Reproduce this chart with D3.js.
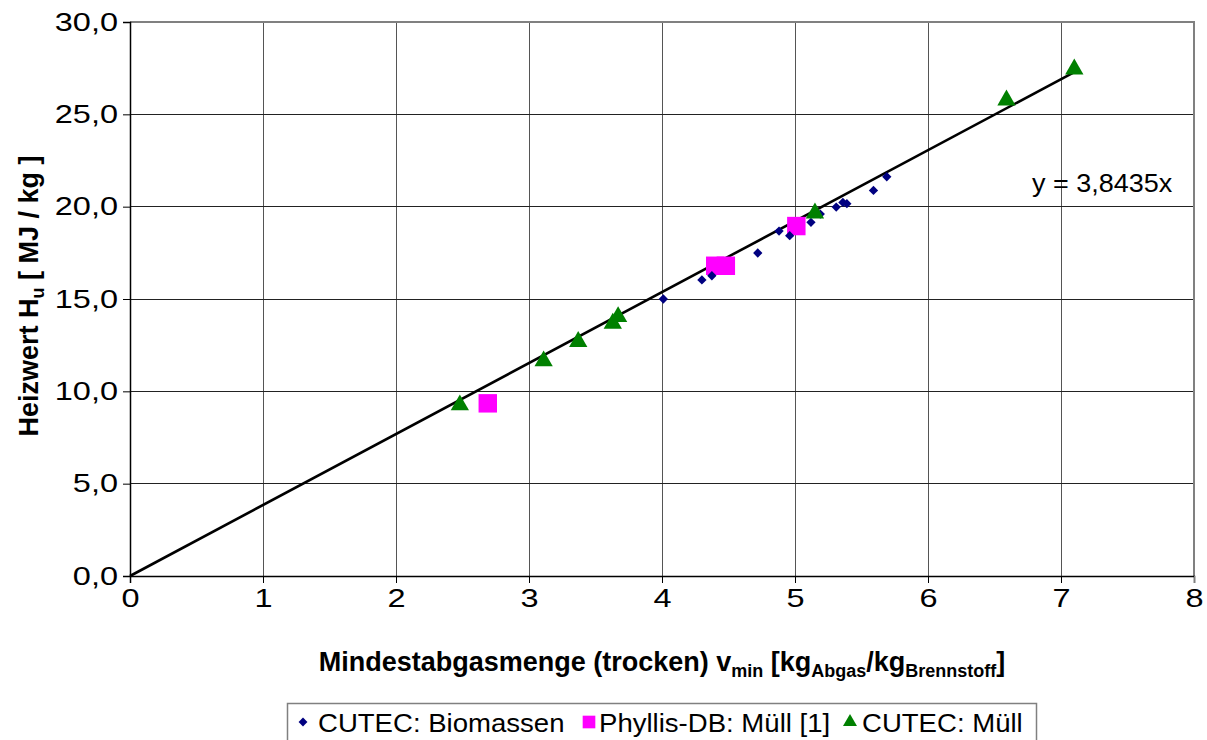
<!DOCTYPE html>
<html>
<head>
<meta charset="utf-8">
<script src="https://cdn.jsdelivr.net/npm/d3@7"></script>
<style>
  html, body { margin: 0; padding: 0; background: #fff; }
  svg { display: block; font-family: "Liberation Sans", Arial, sans-serif; }
</style>
</head>
<body>
<svg id="chart" width="1207" height="740"></svg>
<script>
// Mindestabgasmenge (x) vs. Heizwert (y)
const biomassX = [4.01, 4.30, 4.375, 4.72, 4.88, 4.96, 5.12, 5.19, 5.31, 5.36, 5.39, 5.59, 5.69];
const biomassY = [15.0, 16.03, 16.26, 17.49, 18.68, 18.43, 19.15, 19.6, 19.98, 20.23, 20.16, 20.88, 21.62];

const phyllisX = [2.69, 4.40, 4.48, 5.01];
const phyllisY = [9.35, 16.8, 16.8, 18.95];

const muellX = [2.48, 3.11, 3.37, 3.63, 3.67, 5.15, 6.59, 7.10];
const muellY = [9.26, 11.64, 12.69, 13.68, 14.04, 19.65, 25.77, 27.45];

const slope = 3.8435;
const xTicks = [0, 1, 2, 3, 4, 5, 6, 7, 8];
const yTicks = [0, 5, 10, 15, 20, 25, 30];
const seriesNames = ["CUTEC: Biomassen", "Phyllis-DB: Müll [1]", "CUTEC: Müll"];

const svg = d3.select("#chart");
const plotLeft = 130, plotRight = 1194, plotTop = 22, plotBottom = 576;

const x = d3.scaleLinear().domain([0, 8]).range([plotLeft, plotRight]);
const y = d3.scaleLinear().domain([0, 30]).range([plotBottom, plotTop]);

const fmt = d => d.toFixed(1).replace(".", ",");
const tickScale = 1.3;

// grid lines
svg.append("g").selectAll("line").data(xTicks.slice(1, -1)).join("line")
  .attr("x1", d => x(d)).attr("x2", d => x(d))
  .attr("y1", plotTop).attr("y2", plotBottom)
  .attr("stroke", "#555").attr("stroke-width", 1).attr("shape-rendering", "crispEdges");
svg.append("g").selectAll("line").data(yTicks.slice(1, -1)).join("line")
  .attr("x1", plotLeft).attr("x2", plotRight)
  .attr("y1", d => y(d)).attr("y2", d => y(d))
  .attr("stroke", "#222").attr("stroke-width", 1).attr("shape-rendering", "crispEdges");

// plot area border (top/right)
svg.append("path")
  .attr("d", `M${plotLeft},${plotTop}H${plotRight}V${plotBottom}`)
  .attr("fill", "none").attr("stroke", "#808080").attr("stroke-width", 2)
  .attr("shape-rendering", "crispEdges");

// axes
const xAxis = svg.append("g").attr("transform", `translate(0,${plotBottom})`)
  .call(d3.axisBottom(x).tickValues(xTicks).tickSize(7).tickPadding(6).tickFormat(d3.format("d")));
const yAxis = svg.append("g").attr("transform", `translate(${plotLeft},0)`)
  .call(d3.axisLeft(y).tickValues(yTicks).tickSize(7).tickPadding(5).tickFormat(fmt));
[xAxis, yAxis].forEach(g => {
  g.select(".domain").attr("stroke", "#000").attr("stroke-width", 1.5);
  g.selectAll(".tick line").attr("stroke", "#000");
  g.selectAll(".tick text").attr("font-size", 25).attr("fill", "#000")
    .attr("font-family", "'Liberation Sans', Arial, sans-serif")
    .attr("transform", `scale(${tickScale},1)`);
});
yAxis.selectAll(".tick text").attr("x", -12 / tickScale);
xAxis.select(".tick:last-of-type line").attr("stroke", "#808080");

// trend line
const maxX = d3.max([...biomassX, ...phyllisX, ...muellX]);
svg.append("line")
  .attr("x1", x(0)).attr("y1", y(0))
  .attr("x2", x(maxX)).attr("y2", y(slope * maxX))
  .attr("stroke", "#000").attr("stroke-width", 2.6);

// markers
const diamond = d3.symbol().type(d3.symbolDiamond2).size(55);
const square = d3.symbol().type(d3.symbolSquare).size(340);
const triangle = d3.symbol().type(d3.symbolTriangle2).size(240);

svg.append("g").selectAll("path").data(phyllisX.map((v, i) => [v, phyllisY[i]])).join("path")
  .attr("d", square).attr("fill", "#FF00FF")
  .attr("transform", d => `translate(${x(d[0])},${y(d[1])})`);
svg.append("g").selectAll("path").data(biomassX.map((v, i) => [v, biomassY[i]])).join("path")
  .attr("d", diamond).attr("fill", "#000080")
  .attr("transform", d => `translate(${x(d[0])},${y(d[1])})`);
svg.append("g").selectAll("path").data(muellX.map((v, i) => [v, muellY[i]])).join("path")
  .attr("d", triangle).attr("fill", "#008000")
  .attr("transform", d => `translate(${x(d[0])},${y(d[1])})`);

// equation label
svg.append("g").attr("transform", "translate(1032,192) scale(1.08,1)")
  .append("text").attr("font-size", 25)
  .text("y = " + String(slope).replace(".", ",") + "x");

// axis titles
const xt = svg.append("text").attr("x", 662).attr("y", 671)
  .attr("text-anchor", "middle").attr("font-size", 27).attr("font-weight", "bold");
xt.append("tspan").text("Mindestabgasmenge (trocken) v");
xt.append("tspan").attr("font-size", 18).attr("dy", 6).text("min");
xt.append("tspan").attr("dy", -6).text(" [kg");
xt.append("tspan").attr("font-size", 18).attr("dy", 6).text("Abgas");
xt.append("tspan").attr("dy", -6).text("/kg");
xt.append("tspan").attr("font-size", 18).attr("dy", 6).text("Brennstoff");
xt.append("tspan").attr("dy", -6).text("]");

const yt = svg.append("text").attr("transform", "translate(38,296) rotate(-90)")
  .attr("text-anchor", "middle").attr("font-size", 27).attr("font-weight", "bold");
yt.append("tspan").text("Heizwert H");
yt.append("tspan").attr("font-size", 18).attr("dy", 6).text("u");
yt.append("tspan").attr("dy", -6).text(" [ MJ / kg ]");

// legend
const lg = svg.append("g");
lg.append("rect").attr("x", 287.5).attr("y", 703.5).attr("width", 749).attr("height", 50)
  .attr("fill", "#fff").attr("stroke", "#808080").attr("stroke-width", 1.5);
const legendItems = [
  { sym: d3.symbol().type(d3.symbolDiamond2).size(50), color: "#000080", sx: 303, tx: 318 },
  { sym: d3.symbol().type(d3.symbolSquare).size(160), color: "#FF00FF", sx: 589, tx: 599 },
  { sym: d3.symbol().type(d3.symbolTriangle2).size(140), color: "#008000", sx: 850, tx: 862 }
];
legendItems.forEach((it, i) => {
  lg.append("path").attr("d", it.sym).attr("fill", it.color)
    .attr("transform", `translate(${it.sx},${722})`);
  lg.append("g").attr("transform", `translate(${it.tx},732) scale(1.06,1)`)
    .append("text").attr("font-size", 26).text(seriesNames[i]);
});
</script>
</body>
</html>
